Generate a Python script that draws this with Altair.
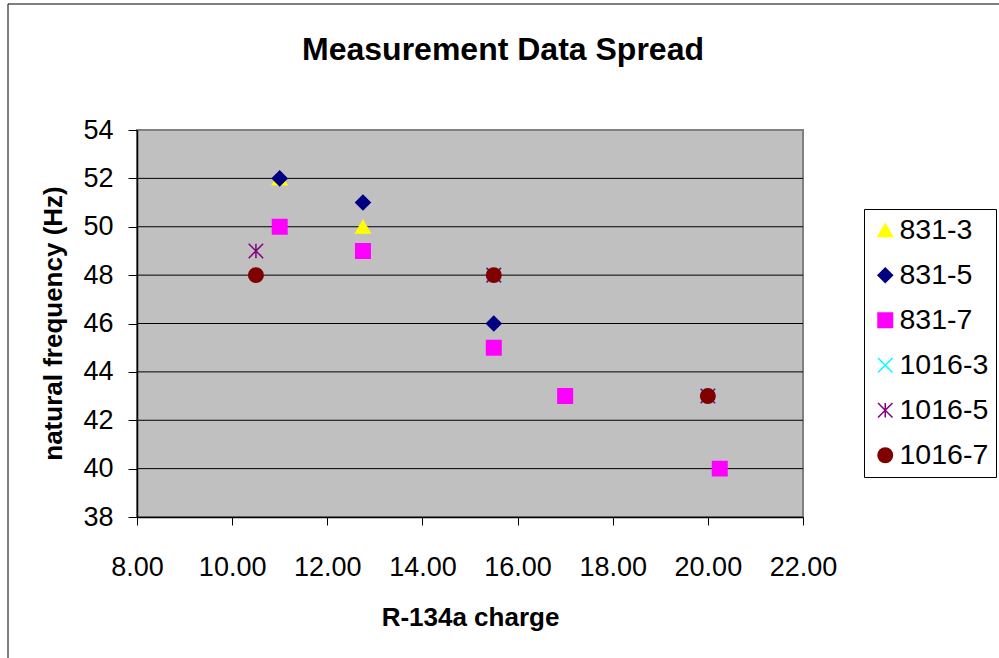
import altair as alt
import pandas as pd

# ---- data ----
series = ["831-3", "831-5", "831-7", "1016-3", "1016-5", "1016-7"]
charge_831_3 = [11.0, 12.75]
freq_831_3 = [52, 50]
charge_831_5 = [11.0, 12.75, 15.5]
freq_831_5 = [52, 51, 46]
charge_831_7 = [11.0, 12.75, 15.5, 17.0, 20.25]
freq_831_7 = [50, 49, 45, 43, 40]
charge_1016_3 = [15.5, 20.0]
freq_1016_3 = [48, 43]
charge_1016_5 = [10.5, 15.5, 20.0]
freq_1016_5 = [49, 48, 43]
charge_1016_7 = [10.5, 15.5, 20.0]
freq_1016_7 = [48, 48, 43]

x_ticks = [8, 10, 12, 14, 16, 18, 20, 22]
y_ticks = [38, 40, 42, 44, 46, 48, 50, 52, 54]
grid_values = [40, 42, 44, 46, 48, 50, 52]

colors = ["#FFFF00", "#000080", "#FF00FF", "#00FFFF", "#800080", "#800000"]
shapes = [
    "triangle-up",
    "diamond",
    "square",
    "M-1,-1L1,1M-1,1L1,-1",
    "M-1,-1L1,1M-1,1L1,-1M0,-1L0,1",
    "circle",
]

FONT = "Liberation Sans"

rows = []
for name, xs, ys in [
    ("831-3", charge_831_3, freq_831_3),
    ("831-5", charge_831_5, freq_831_5),
    ("831-7", charge_831_7, freq_831_7),
    ("1016-3", charge_1016_3, freq_1016_3),
    ("1016-5", charge_1016_5, freq_1016_5),
    ("1016-7", charge_1016_7, freq_1016_7),
]:
    for xv, yv in zip(xs, ys):
        rows.append({"series": name, "charge": xv, "freq": yv})
df = pd.DataFrame(rows)

x_scale = alt.Scale(domain=[8, 22], nice=False, zero=False)
y_scale = alt.Scale(domain=[38, 54], nice=False, zero=False)

y_axis = alt.Axis(
    title="natural frequency (Hz)",
    values=y_ticks,
    grid=False,
    tickSize=9,
    labelPadding=15,
    labelOverlap=False,
    titleBaseline="alphabetic",
    titleX=-76,
    titleY=193,
)

x_axis = alt.Axis(
    title="R-134a charge",
    values=x_ticks,
    format=".2f",
    grid=False,
    tickSize=8,
    labelPadding=50,
    labelBaseline="alphabetic",
    labelOverlap=False,
    labelFlush=False,
    titleBaseline="alphabetic",
    titleY=108,
)

frame = alt.Chart(pd.DataFrame({"a": [0]})).mark_rect(
    fill="white", fillOpacity=0, stroke="black", strokeWidth=1
).encode(
    x=alt.value(-129), x2=alt.value(880), y=alt.value(-126), y2=alt.value(545)
)

grid = alt.Chart(pd.DataFrame({"g": grid_values})).mark_rule(
    color="black", strokeWidth=1
).encode(y=alt.Y("g:Q", scale=y_scale, axis=y_axis))

color_scale = alt.Scale(domain=series, range=colors)
shape_scale = alt.Scale(domain=series, range=shapes)

legend = alt.Legend(
    title=None,
    orient="none",
    legendX=727,
    legendY=79,
    strokeColor="black",
    fillColor="white",
    padding=7,
    labelFont=FONT,
    labelFontSize=28.5,
    labelColor="black",
    labelOffset=0,
    symbolSize=210,
    symbolStrokeWidth=1.5,
    rowPadding=16,
)

points = alt.Chart(df).mark_point(
    filled=True, opacity=1, size=210, strokeWidth=1.5
).encode(
    x=alt.X("charge:Q", scale=x_scale, axis=x_axis),
    y=alt.Y("freq:Q", scale=y_scale, axis=y_axis),
    fill=alt.Fill("series:N", scale=color_scale, legend=legend, sort=series),
    stroke=alt.Stroke("series:N", scale=color_scale, legend=legend, sort=series),
    shape=alt.Shape("series:N", scale=shape_scale, legend=legend, sort=series),
)

chart = alt.layer(frame, grid, points).properties(
    width=666,
    height=387,
    autosize=alt.AutoSizeParams(type="none"),
    padding={"left": 137, "top": 130, "right": 196, "bottom": 141},
    title=alt.TitleParams(
        text="Measurement Data Spread",
        font=FONT,
        fontSize=32,
        fontWeight="bold",
        color="black",
        anchor="middle",
        frame="group",
        baseline="alphabetic",
        dx=33,
        offset=-88,
    ),
).configure(background="white").configure_view(
    fill="#C0C0C0", stroke="#808080", strokeWidth=2
).configure_axis(
    labelFont=FONT,
    labelFontSize=27,
    labelColor="black",
    titleFont=FONT,
    titleFontSize=26,
    titleFontWeight="bold",
    titleColor="black",
    domainColor="black",
    domainWidth=1.5,
    tickColor="black",
    tickWidth=1,
)

chart.save("out.html", embed_options={"renderer": "svg", "actions": False})
